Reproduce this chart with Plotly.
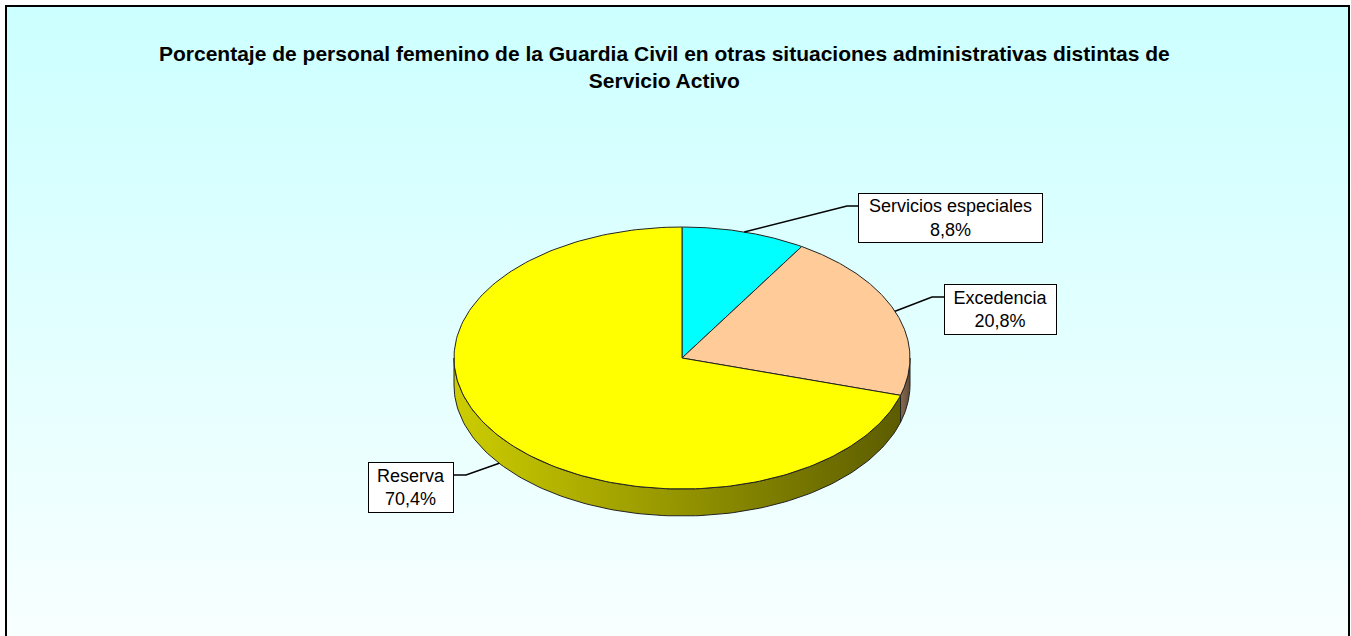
import numpy as np
import plotly.graph_objects as go

# ---- data ----
labels = ["Servicios especiales", "Excedencia", "Reserva"]
values = [8.8, 20.8, 70.4]
value_text = ["8,8%", "20,8%", "70,4%"]
title_lines = ["Porcentaje de personal femenino de la Guardia Civil en otras situaciones administrativas distintas de",
               "Servicio Activo"]

# ---- style / layout ----
top_colors = ["#00FFFF", "#FFCC99", "#FFFF00"]
side_colors = [["#00A0A0", "#005C5C"], ["#8A6C50", "#5E4A38"], ["#CDCD00", "#5A5A00"]]
W, H = 1351, 636
CX, CY, RX, RY, DEPTH = 682, 358, 228, 131, 27
# label boxes: centre x, centre y, width, height, elbow point
label_boxes = [
    dict(x=950.5, y=218, w=183, h=48, elbow=(847, 206), edge=858),
    dict(x=1000.5, y=309.5, w=111, h=49, elbow=(932, 297), edge=944),
    dict(x=411, y=487.5, w=84, h=49, elbow=(466, 475), edge=454),
]


def pt(theta_deg, dy=0.0):
    t = np.radians(theta_deg)
    return CX + RX * np.sin(t), CY - RY * np.cos(t) + dy


fig = go.Figure()

# background gradient inside frame
fig.add_trace(go.Scatter(
    x=[6, 1349, 1349, 6, 6], y=[6, 6, H + 5, H + 5, 6], mode="lines", fill="toself",
    line=dict(width=0), hoverinfo="skip",
    fillgradient=dict(type="vertical", colorscale=[[0, "#CCFFFF"], [1, "#F8FFFF"]], start=6, stop=H)))

total = sum(values)
bounds = np.concatenate([[0], np.cumsum(values) / total * 360.0])

# sides (visible front half 90..270)
for i in range(len(values)):
    a, b = max(bounds[i], 90.0), min(bounds[i + 1], 270.0)
    if b <= a:
        continue
    th = np.linspace(a, b, 120)
    xt, yt = pt(th)
    xb, yb = pt(th[::-1], DEPTH)
    xs = np.concatenate([xt, xb, xt[:1]])
    ys = np.concatenate([yt, yb, yt[:1]])
    x0, x1 = xs.min(), xs.max()
    fig.add_trace(go.Scatter(
        x=xs, y=ys, mode="lines", fill="toself", line=dict(color="#222222", width=1),
        hoverinfo="skip",
        fillgradient=dict(type="horizontal",
                          colorscale=[[0, side_colors[i][0]], [1, side_colors[i][1]]],
                          start=CX - RX if i == 2 else x0, stop=CX + RX if i == 2 else x1)))

# top faces
for i in range(len(values)):
    th = np.linspace(bounds[i], bounds[i + 1], 200)
    xa, ya = pt(th)
    xs = np.concatenate([[CX], xa, [CX]])
    ys = np.concatenate([[CY], ya, [CY]])
    fig.add_trace(go.Scatter(
        x=xs, y=ys, mode="lines", fill="toself", fillcolor=top_colors[i],
        line=dict(color="#222222", width=1), hoverinfo="text",
        text=f"{labels[i]}: {value_text[i]}"))

# leader lines + labels
annotations = []
for i in range(len(values)):
    mid = (bounds[i] + bounds[i + 1]) / 2
    front = 90 < mid < 270
    sx, sy = pt(mid, DEPTH if front else 0)
    lb = label_boxes[i]
    ex, ey = lb["elbow"]
    fig.add_trace(go.Scatter(
        x=[sx, ex, lb["edge"]], y=[sy, ey, ey], mode="lines",
        line=dict(color="black", width=1.5), hoverinfo="skip"))
    annotations.append(dict(
        x=lb["x"], y=lb["y"], xref="x", yref="y", showarrow=False,
        text=f"{labels[i]}<br>{value_text[i]}", align="center",
        xanchor="center", yanchor="middle", width=lb["w"], height=lb["h"],
        bgcolor="white", bordercolor="black", borderwidth=1, borderpad=0,
        font=dict(family="Liberation Sans, Arial", size=18, color="black")))

annotations.append(dict(
    x=664.5, y=67, xref="x", yref="y", showarrow=False,
    text="<b>" + "<br>".join(title_lines) + "</b>", align="center",
    xanchor="center", yanchor="middle",
    font=dict(family="Liberation Sans, Arial", size=21, color="black")))

fig.update_layout(
    width=W, height=H, autosize=False, margin=dict(l=0, r=0, t=0, b=0, pad=0),
    paper_bgcolor="white", plot_bgcolor="white", showlegend=False,
    xaxis=dict(range=[0, W], visible=False, fixedrange=True),
    yaxis=dict(range=[H, 0], visible=False, fixedrange=True),
    annotations=annotations,
    shapes=[dict(type="rect", xref="x", yref="y", x0=6, y0=6, x1=1349, y1=H + 10,
                 line=dict(color="black", width=2), fillcolor="rgba(0,0,0,0)", layer="above")],
)

fig.write_html("out.html", config={"displayModeBar": False},
               post_script="document.body.style.margin='0';")
